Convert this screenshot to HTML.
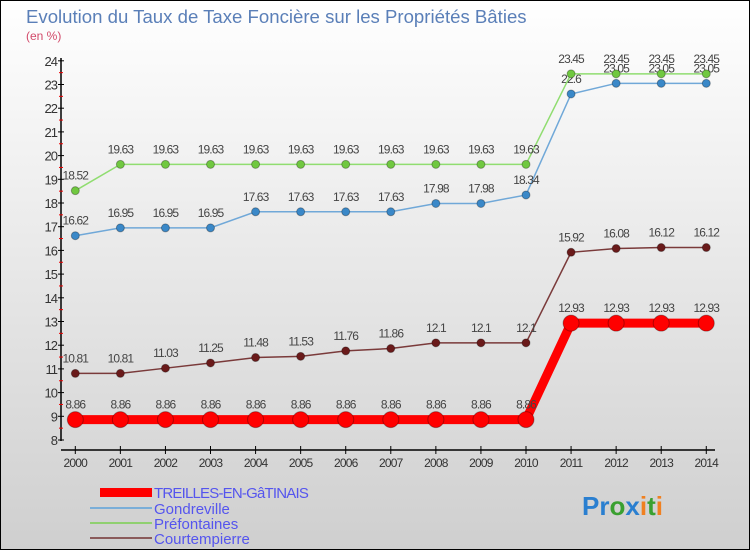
<!DOCTYPE html>
<html><head><meta charset="utf-8"><style>
body{margin:0;width:750px;height:550px;overflow:hidden;font-family:"Liberation Sans",sans-serif}
</style></head><body>
<svg id="c" width="750" height="550" xmlns="http://www.w3.org/2000/svg">
<defs><linearGradient id="bg" x1="0" y1="0" x2="0" y2="1"><stop offset="0" stop-color="#ffffff"/><stop offset="1" stop-color="#cfcfcf"/></linearGradient></defs>
<rect x="0.5" y="0.5" width="749" height="549" fill="url(#bg)" stroke="#000"/>
<text x="26" y="23" font-size="18.6" fill="#5a7fb8">Evolution du Taux de Taxe Foncière sur les Propriétés Bâties</text>
<text x="26" y="40" font-size="12" fill="#d24a6a">(en %)</text>
<g id="axes"></g><g id="plot"></g>
<g font-size="15" fill="#5555ee">
<rect x="100" y="488" width="52" height="9" fill="#f00"/>
<text x="154" y="498" fill="#5555ee" letter-spacing="-0.8">TREILLES-EN-GâTINAIS</text>
<line x1="90" y1="508" x2="152" y2="508" stroke="#7aaed8" stroke-width="2"/>
<text x="154" y="514" fill="#5555ee">Gondreville</text>
<line x1="90" y1="523" x2="152" y2="523" stroke="#90d070" stroke-width="2"/>
<text x="154" y="529" fill="#5555ee">Préfontaines</text>
<line x1="90" y1="538" x2="152" y2="538" stroke="#8a5a5a" stroke-width="2"/>
<text x="154" y="544" fill="#5555ee">Courtempierre</text>
</g>
<text x="582" y="515" font-size="26" font-weight="bold"><tspan fill="#2a7fd0">Pr</tspan><tspan fill="#3aa030">o</tspan><tspan fill="#2a7fd0">x</tspan><tspan fill="#f08020">i</tspan><tspan fill="#3aa030">t</tspan><tspan fill="#f08020">i</tspan></text>
</svg>
<script>
const years=[2000,2001,2002,2003,2004,2005,2006,2007,2008,2009,2010,2011,2012,2013,2014];
const treilles=[8.86,8.86,8.86,8.86,8.86,8.86,8.86,8.86,8.86,8.86,8.86,12.93,12.93,12.93,12.93];
const gondreville=[16.62,16.95,16.95,16.95,17.63,17.63,17.63,17.63,17.98,17.98,18.34,22.6,23.05,23.05,23.05];
const prefontaines=[18.52,19.63,19.63,19.63,19.63,19.63,19.63,19.63,19.63,19.63,19.63,23.45,23.45,23.45,23.45];
const courtempierre=[10.81,10.81,11.03,11.25,11.48,11.53,11.76,11.86,12.1,12.1,12.1,15.92,16.08,16.12,16.12];
const yTicks=[8,9,10,11,12,13,14,15,16,17,18,19,20,21,22,23,24];
const NS="http://www.w3.org/2000/svg";
const X=i=>75.3+i*45.07, Y=v=>440-(v-8)*23.7;
function mk(t,a,p){const e=document.createElementNS(NS,t);for(const k in a)e.setAttribute(k,a[k]);p.appendChild(e);return e;}
const ax=document.getElementById('axes'),pl=document.getElementById('plot');
mk('line',{x1:61,y1:58,x2:61,y2:441,stroke:'#000','stroke-width':1.5},ax);
mk('line',{x1:61,y1:450,x2:715,y2:450,stroke:'#000','stroke-width':1.5},ax);
yTicks.forEach(v=>{
 mk('line',{x1:58,y1:Y(v),x2:64,y2:Y(v),stroke:'#000'},ax);
 if(v<24)mk('line',{x1:59,y1:Y(v+0.5),x2:63,y2:Y(v+0.5),stroke:'#e00'},ax);
 const t=mk('text',{x:57,y:Y(v)+5,'text-anchor':'end','font-size':13,fill:'#333','letter-spacing':'-1'},ax);t.textContent=v;
 
});
years.forEach((y,i)=>{
 mk('line',{x1:X(i),y1:446,x2:X(i),y2:454,stroke:'#000'},ax);
 const t=mk('text',{x:X(i),y:467,'text-anchor':'middle','font-size':12,fill:'#333','letter-spacing':'-0.8'},ax);t.textContent=y;
 
});
function series(name,d,col,dot,w,r){
 const g=mk('g',{},pl);
 mk('polyline',{points:d.map((v,i)=>X(i)+','+Y(v)).join(' '),fill:'none',stroke:col,'stroke-width':w},g);
 d.forEach((v,i)=>{
  const c=mk('circle',{cx:X(i),cy:Y(v),r:r,fill:dot,stroke:'rgba(0,0,0,0.3)'},g);
  
  const t=mk('text',{x:X(i),y:Y(v)-11,'text-anchor':'middle','font-size':12,fill:'#444','letter-spacing':'-0.9'},g);t.textContent=v;
 });
}
series('courtempierre',courtempierre,'#7a3a3a','#6a1a1a',1.5,4);
series('gondreville',gondreville,'#70a8d8','#3a88c8',1.5,4);
series('prefontaines',prefontaines,'#90dd70','#70c840',1.5,4);
series('treilles',treilles,'#f00','#f00',9,8);
</script>
</body></html>
